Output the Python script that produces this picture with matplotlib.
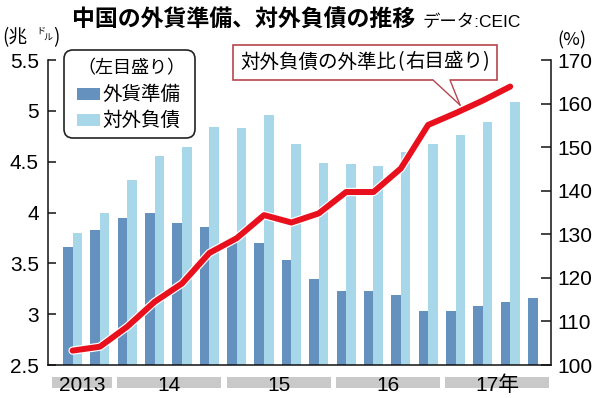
import matplotlib
matplotlib.use("Agg")
import matplotlib.pyplot as plt
import matplotlib.patheffects as pe
from matplotlib.patches import FancyBboxPatch, Rectangle, Polygon
from matplotlib.transforms import IdentityTransform, blended_transform_factory
from matplotlib.lines import Line2D
import numpy as np

# ---- data ----
quarters = list(range(18))  # 2013Q3 .. 2017Q4
reserves = [3.66, 3.83, 3.95, 4.00, 3.90, 3.86, 3.72, 3.70, 3.53, 3.35,
            3.23, 3.23, 3.19, 3.03, 3.03, 3.08, 3.12, 3.16]
liabilities = [3.80, 4.00, 4.32, 4.56, 4.64, 4.84, 4.83, 4.96, 4.67, 4.49,
               4.48, 4.46, 4.60, 4.67, 4.76, 4.89, 5.09]
ratio = [103.3, 104.2, 108.8, 114.5, 118.7, 125.7, 129.1, 134.4, 132.7, 134.8,
         139.7, 139.7, 145.1, 155.1, 157.8, 160.7, 163.9]
year_labels = ['2013', '14', '15', '16', '17年']
year_first = [0, 2, 6, 10, 14]
year_last = [1, 5, 9, 13, 17]
left_ticks = [2.5, 3, 3.5, 4, 4.5, 5, 5.5]
right_ticks = [100, 110, 120, 130, 140, 150, 160, 170]

title = '中国の外貨準備、対外負債の推移'
source = 'データ:CEIC'
legend_head = '（左目盛り）'
legend_labels = ['外貨準備', '対外負債']
callout_main = '対外負債の外準比'
callout_sub = '右目盛り)'

DARK = '#6491bd'
LIGHT = '#a8d7e9'
RED = '#e8101c'
BOXRED = '#b8454f'

plt.rcParams['font.family'] = ['Liberation Sans', 'Noto Sans CJK JP']
W, H = 600, 398
fig = plt.figure(figsize=(W / 100, H / 100), dpi=100)
ax = fig.add_axes([48.5 / W, 1 - 365 / H, (550.7 - 48.5) / W, (365 - 60) / H])
ax2 = ax.twinx()

x = np.arange(len(reserves))
bw = 0.35
ax.bar(x - bw / 2, reserves, width=bw, color=DARK, zorder=2)
xl = np.arange(len(liabilities))
ax.bar(xl + bw / 2, liabilities, width=bw, color=LIGHT, zorder=2)
ax.set_xlim(-0.88, 17.48)
ax.set_ylim(2.5, 5.5)
ax2.set_ylim(100, 170)

xr = np.arange(len(ratio))
ax2.plot(xr, ratio, color=RED, lw=4.3, solid_capstyle='round', solid_joinstyle='round',
         path_effects=[pe.Stroke(linewidth=6.0, foreground='white'), pe.Normal()], zorder=5)

for a in (ax, ax2):
    a.spines['top'].set_visible(False)
    for s in a.spines.values():
        s.set_linewidth(1.1)
        s.set_color('#111111')
    a.set_xticks([])
ax.spines['right'].set_visible(False)
ax2.spines['left'].set_visible(False)
ax2.spines['bottom'].set_visible(False)

ax.set_yticks(left_ticks)
ax.set_yticklabels([f'{v:g}' for v in left_ticks], fontsize=15)
ax.tick_params(axis='y', direction='in', length=6, width=1.1, pad=7, color='#111111')
ax2.set_yticks(right_ticks)
ax2.set_yticklabels([str(v) for v in right_ticks], fontsize=15)
ax2.tick_params(axis='y', direction='in', length=7, width=1.1, pad=5, color='#111111')

# year bands + labels
bt = blended_transform_factory(ax.transData, ax.transAxes)
xmin = ax.get_xlim()[0]
for lab, f, l in zip(year_labels, year_first, year_last):
    left = f - 0.37 if f > 0 else xmin + 0.13
    right = l + 0.43
    ax.add_patch(Rectangle((left, -0.075), right - left, 0.037, transform=bt,
                           color='#c9c9c9', clip_on=False, zorder=1, lw=0))
    ax.text((left + right) / 2, -0.066, lab, transform=bt, ha='center', va='center',
            fontsize=15, clip_on=False, zorder=3)

ident = IdentityTransform()
def P(xp, yp):
    return (xp, H - yp)

# title
fig.text(72 / W, 1 - 20 / H, title, fontsize=16.5, fontweight='bold',
         family=['Noto Sans CJK JP'], ha='left', va='center')
fig.text(423 / W, 1 - 22 / H, source, fontsize=12.5, family=['Liberation Sans', 'Noto Sans CJK JP'],
         ha='left', va='center')

# unit labels
fig.text(2 / W, 1 - 38 / H, '(兆', fontsize=13.5, family=['Noto Sans CJK JP'], ha='left', va='center')
fig.text(36 / W, 1 - 31 / H, 'ド', fontsize=6.5, family=['Noto Sans CJK JP'], ha='left', va='center')
fig.text(43 / W, 1 - 38 / H, 'ル', fontsize=6.5, family=['Noto Sans CJK JP'], ha='left', va='center')
fig.text(53 / W, 1 - 38 / H, ')', fontsize=13.5, family=['Noto Sans CJK JP'], ha='left', va='center')
fig.text(572 / W, 1 - 40 / H, '(%)', fontsize=13, family=['Noto Sans CJK JP'], ha='center', va='center')

# legend box
lb = FancyBboxPatch(P(64, 138), 131, 88, boxstyle='round,pad=0,rounding_size=9',
                    transform=ident, fc='white', ec='#222222', lw=1.2, zorder=10)
fig.add_artist(lb)
fig.text(131 / W, 1 - 68 / H, legend_head, fontsize=13, family=['Noto Sans CJK JP'],
         ha='center', va='center', zorder=11)
for lab, col, yc in zip(legend_labels, [DARK, LIGHT], [94, 120]):
    fig.add_artist(Rectangle(P(77, yc + 6), 23, 12, transform=ident, color=col, lw=0, zorder=11))
    fig.text(102 / W, 1 - yc / H, lab, fontsize=14, family=['Noto Sans CJK JP'],
             ha='left', va='center', zorder=11)

# callout box
tip = (460, 105)
fig.add_artist(Polygon([P(433, 79), P(450, 79), P(*tip)], closed=True, transform=ident,
                       fc='white', ec='none', zorder=12))
for bx in (433, 450):
    fig.add_artist(Line2D([bx, tip[0]], [H - 80, H - tip[1]], transform=ident,
                          color=BOXRED, lw=1.0, zorder=13))
cb = FancyBboxPatch(P(233, 80), 264, 35, boxstyle='square,pad=0', transform=ident,
                    fc='white', ec=BOXRED, lw=1.2, zorder=11)
fig.add_artist(cb)
fig.add_artist(Line2D([434, 449], [H - 80, H - 80], transform=ident, color='white', lw=1.6, zorder=12.5))
fig.text(240 / W, 1 - 62 / H, callout_main, fontsize=14, family=['Noto Sans CJK JP'],
         ha='left', va='center', zorder=14)
fig.text(397 / W, 1 - 62 / H, '(', fontsize=14, family=['Noto Sans CJK JP'],
         ha='left', va='center', zorder=14)
fig.text(405 / W, 1 - 62 / H, callout_sub, fontsize=14, family=['Noto Sans CJK JP'],
         ha='left', va='center', zorder=14)

fig.savefig('out.png', dpi=100)
